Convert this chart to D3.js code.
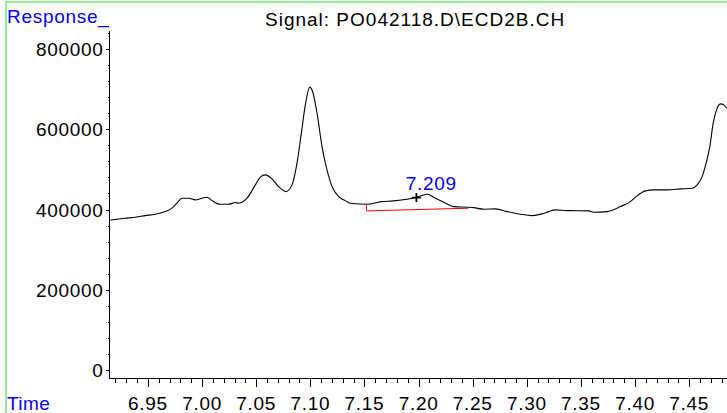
<!DOCTYPE html>
<html>
<head>
<meta charset="utf-8">
<title>Signal PO042118</title>
<script type="text/javascript" src="https://d3js.org/d3.v7.min.js"></script>
<style>
    * { margin: 0; padding: 0; }
    body { background: #fff; }
    #chart-container { width: 727px; height: 413px; }
    text { font-family: "Liberation Sans", Arial, sans-serif; }
</style>
</head>
<body>
<div id="chart-container"></div>
<script type="text/javascript">

    // 数据：保留时间 (min) 与响应值
    const times = [6.9152, 6.929, 6.9383, 6.9475, 6.9567, 6.966, 6.9722, 6.9768, 6.9814, 6.9875,
        6.9937, 6.9999, 7.0045, 7.0092, 7.0168, 7.0245, 7.0307, 7.0337, 7.0415, 7.0492,
        7.0538, 7.0584, 7.0646, 7.0707, 7.0775, 7.0831, 7.0877, 7.0917, 7.0954, 7.0994,
        7.1021, 7.1062, 7.1108, 7.1154, 7.1201, 7.1262, 7.1323, 7.137, 7.1524, 7.1647,
        7.177, 7.1894, 7.1986, 7.2079, 7.2155, 7.2232, 7.2324, 7.2448, 7.2509, 7.2602,
        7.271, 7.2818, 7.2941, 7.3049, 7.3141, 7.3202, 7.3264, 7.3372, 7.3572, 7.3618,
        7.3742, 7.3865, 7.3957, 7.4019, 7.4096, 7.4173, 7.4297, 7.4421, 7.4528, 7.4574,
        7.462, 7.466, 7.4691, 7.4722, 7.4753, 7.479, 7.482, 7.4845];
    const response = [374000, 378300, 380800, 384800, 388300, 394800, 403300, 415700, 428200, 428200,
        424000, 428200, 430700, 422200, 413300, 413300, 417300, 415700, 428200, 461400,
        480600, 486300, 476400, 457100, 444700, 461400, 515500, 590300, 660900, 705100,
        694100, 640200, 556900, 498800, 457100, 432200, 422200, 415700, 413300, 419000,
        421500, 425700, 430700, 438200, 428200, 418200, 407300, 405800, 404800, 400800,
        401500, 394800, 388300, 384800, 389100, 394800, 399000, 397300, 396500, 393300,
        394800, 407300, 419700, 434000, 446400, 448900, 448900, 451400, 453200, 461400,
        482100, 519500, 556900, 615300, 648400, 663400, 660900, 652700];

    // 积分基线（红线）与峰标记
    const baselineTimes = [7.1518, 7.1518, 7.2461];
    const baselineValues = [413600, 396500, 403300];
    const peakLabel = "7.209";
    const peakTime = 7.209;
    const markerTime = 7.198;
    const markerValue = 429700;

    // 刻度
    const xTicks = [6.95, 7.00, 7.05, 7.10, 7.15, 7.20, 7.25, 7.30, 7.35, 7.40, 7.45];
    const yTicks = [0, 200000, 400000, 600000, 800000];

    const title = "Signal: PO042118.D\\ECD2B.CH";
    const yLabel = "Response_";
    const xLabel = "Time";

    const width = 727, height = 413;
    const margin = { top: 31, right: 0.5, bottom: 35, left: 109 };

    const svg = d3.select("#chart-container")
        .append("svg")
        .attr("width", width)
        .attr("height", height);

    // 绿色外框
    svg.append("rect")
        .attr("x", 6).attr("y", 2)
        .attr("width", width + 20).attr("height", height + 20)
        .attr("fill", "none")
        .attr("stroke", "#94ec94")
        .attr("stroke-width", 2);

    const xScale = d3.scaleLinear()
        .domain([6.914, 7.4845])
        .range([margin.left, width - margin.right]);
    const yScale = d3.scaleLinear()
        .domain([-20000, 845000])
        .range([height - margin.bottom, margin.top]);

    const x0 = margin.left + 0.5;
    const y0 = height - margin.bottom + 0.5;

    // 次刻度
    const xMinor = d3.range(692, 749).map(d => d / 100);
    const yMinor = d3.range(0, 22).map(d => d * 40000);

    const axes = svg.append("g")
        .attr("stroke", "#000")
        .attr("stroke-width", 1)
        .attr("shape-rendering", "crispEdges");

    axes.selectAll(".xminor").data(xMinor).join("line")
        .attr("class", "xminor")
        .attr("x1", d => Math.round(xScale(d)) + 0.5).attr("x2", d => Math.round(xScale(d)) + 0.5)
        .attr("y1", y0).attr("y2", y0 + 4);
    axes.selectAll(".xmajor").data(xTicks).join("line")
        .attr("class", "xmajor")
        .attr("x1", d => Math.round(xScale(d)) + 0.5).attr("x2", d => Math.round(xScale(d)) + 0.5)
        .attr("y1", y0).attr("y2", y0 + 8);
    axes.selectAll(".yminor").data(yMinor).join("line")
        .attr("class", "yminor")
        .attr("x1", x0 - 2).attr("x2", x0)
        .attr("y1", d => Math.round(yScale(d)) + 0.5).attr("y2", d => Math.round(yScale(d)) + 0.5);
    axes.selectAll(".ymajor").data(yTicks).join("line")
        .attr("class", "ymajor")
        .attr("x1", x0 - 4).attr("x2", x0)
        .attr("y1", d => Math.round(yScale(d)) + 0.5).attr("y2", d => Math.round(yScale(d)) + 0.5);

    // 轴线
    axes.append("line")
        .attr("x1", x0).attr("x2", x0)
        .attr("y1", yScale.range()[1]).attr("y2", y0);
    axes.append("line")
        .attr("x1", x0).attr("x2", xScale.range()[1])
        .attr("y1", y0).attr("y2", y0);

    // 刻度标签
    svg.selectAll(".xlabel").data(xTicks).join("text")
        .attr("class", "xlabel")
        .attr("x", d => xScale(d))
        .attr("y", 410)
        .attr("text-anchor", "middle")
        .attr("fill", "#000")
        .style("font-size", "19px")
        .style("letter-spacing", "0.7px")
        .text(d3.format(".2f"));
    svg.selectAll(".ylabel").data(yTicks).join("text")
        .attr("class", "ylabel")
        .attr("x", 103.5)
        .attr("y", d => yScale(d) + 7)
        .attr("text-anchor", "end")
        .attr("fill", "#000")
        .style("font-size", "19px")
        .style("letter-spacing", "0.7px")
        .text(d3.format("d"));

    // 信号曲线
    const line = d3.line()
        .x((d, i) => xScale(times[i]))
        .y(d => yScale(d))
        .curve(d3.curveMonotoneX);

    svg.append("path")
        .datum(response)
        .attr("fill", "none")
        .attr("stroke", "#000")
        .attr("stroke-width", 1.1)
        .attr("d", line);

    // 基线
    svg.append("path")
        .datum(baselineValues)
        .attr("fill", "none")
        .attr("stroke", "#ff0000")
        .attr("stroke-width", 1)
        .attr("d", d3.line().x((d, i) => xScale(baselineTimes[i])).y(d => yScale(d)));

    // 峰顶十字标记
    const mx = xScale(markerTime), my = yScale(markerValue);
    svg.append("path")
        .attr("d", `M${mx - 4.5},${my}H${mx + 4.5}M${mx},${my - 4.5}V${my + 4.5}`)
        .attr("stroke", "#000")
        .attr("stroke-width", 1.8);

    svg.append("text")
        .attr("x", xScale(peakTime) + 3)
        .attr("y", 189.5)
        .attr("text-anchor", "middle")
        .attr("fill", "#0000ff")
        .style("font-size", "19px")
        .style("letter-spacing", "0.7px")
        .text(peakLabel);

    // 标题与轴名
    svg.append("text")
        .attr("x", 265).attr("y", 26)
        .attr("fill", "#000")
        .style("font-size", "19px")
        .style("letter-spacing", "1px")
        .text(title);

    svg.append("text")
        .attr("x", 7).attr("y", 22.5)
        .attr("fill", "#0000ff")
        .style("font-size", "19px")
        .style("letter-spacing", "0.7px")
        .text(yLabel);

    svg.append("text")
        .attr("x", 7).attr("y", 410)
        .attr("fill", "#0000ff")
        .style("font-size", "19px")
        .style("letter-spacing", "0.4px")
        .text(xLabel);
</script>
</body>
</html>
